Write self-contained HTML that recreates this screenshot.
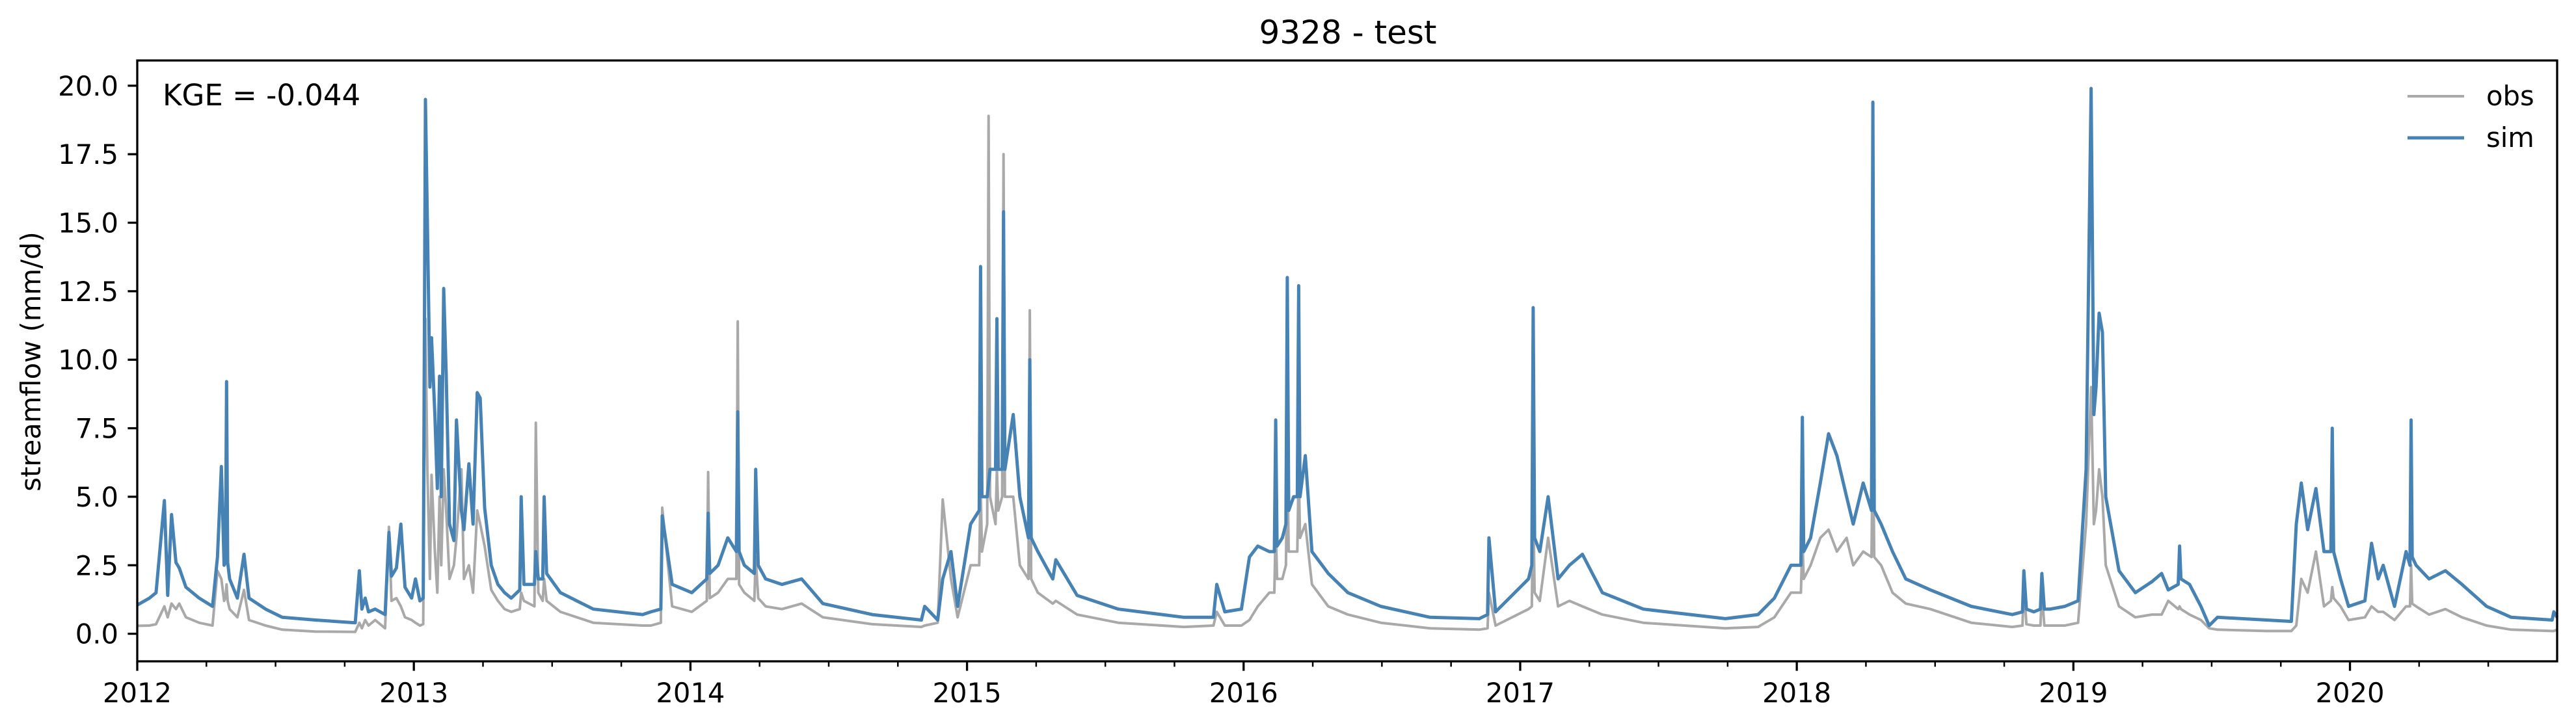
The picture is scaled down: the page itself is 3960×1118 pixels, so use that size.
<!DOCTYPE html>
<html><head><meta charset="utf-8"><title>9328 - test</title>
<style>html,body{margin:0;padding:0;background:#fff;}svg{display:block;font-family:"DejaVu Sans","Liberation Sans",sans-serif;}</style>
</head><body>
<svg id="chart" width="3960" height="1118" viewBox="0 0 3960 1118" xmlns="http://www.w3.org/2000/svg">
<rect x="0" y="0" width="3960" height="1118" fill="#fff"/>
<text x="2072" y="67" font-size="50" text-anchor="middle">9328 - test</text>
<g id="series"></g>
<g id="axes"></g>
<text x="250" y="162" font-size="45">KGE = -0.044</text>
<text x="0" y="0" font-size="41.7" text-anchor="middle" transform="translate(62,556) rotate(-90)">streamflow (mm/d)</text>
<g>
<line x1="3701" y1="148" x2="3788" y2="148" stroke="#a9a9a9" stroke-width="4"/>
<text x="3822" y="162" font-size="41.7">obs</text>
<line x1="3701" y1="212" x2="3788" y2="212" stroke="#4682b4" stroke-width="5"/>
<text x="3822" y="226" font-size="41.7">sim</text>
</g>
</svg>
<script>
const times = [0.000,0.044,0.068,0.098,0.110,0.124,0.140,0.152,0.176,0.224,0.272,0.290,0.304,0.314,0.319,0.323,0.327,0.334,0.362,0.386,0.404,0.464,0.524,0.644,0.788,0.803,0.812,0.824,0.836,0.860,0.896,0.910,0.919,0.937,0.953,0.968,0.992,1.006,1.022,1.034,1.042,1.049,1.058,1.064,1.076,1.085,1.093,1.099,1.108,1.117,1.129,1.145,1.154,1.172,1.181,1.199,1.214,1.229,1.240,1.256,1.280,1.304,1.328,1.352,1.383,1.388,1.398,1.436,1.441,1.450,1.466,1.471,1.480,1.530,1.649,1.827,1.857,1.893,1.898,1.934,2.005,2.059,2.064,2.070,2.100,2.135,2.166,2.171,2.176,2.195,2.231,2.236,2.245,2.272,2.331,2.402,2.479,2.657,2.835,2.847,2.894,2.912,2.942,2.966,3.013,3.044,3.049,3.054,3.073,3.078,3.083,3.103,3.108,3.113,3.127,3.132,3.137,3.167,3.191,3.222,3.227,3.232,3.256,3.310,3.321,3.398,3.547,3.784,3.891,3.903,3.932,3.992,4.021,4.051,4.093,4.111,4.116,4.121,4.140,4.153,4.158,4.163,4.181,4.194,4.199,4.204,4.223,4.247,4.306,4.377,4.496,4.674,4.852,4.882,4.887,4.911,5.030,5.042,5.047,5.052,5.071,5.101,5.137,5.178,5.225,5.297,5.445,5.742,5.860,5.919,5.979,6.015,6.020,6.025,6.050,6.085,6.115,6.145,6.180,6.204,6.240,6.270,6.275,6.280,6.305,6.346,6.394,6.483,6.631,6.779,6.816,6.821,6.830,6.857,6.881,6.886,6.895,6.916,6.969,7.017,7.046,7.064,7.074,7.082,7.093,7.105,7.117,7.165,7.224,7.284,7.319,7.343,7.379,7.384,7.389,7.420,7.461,7.491,7.521,7.699,7.788,7.806,7.824,7.847,7.877,7.906,7.931,7.936,7.941,7.966,7.995,8.054,8.078,8.102,8.120,8.161,8.203,8.217,8.221,8.225,8.239,8.286,8.345,8.405,8.494,8.583,8.731,8.737,8.749];
const simValues = [1.05,1.3,1.5,4.86,1.4,4.35,2.6,2.4,1.7,1.3,1.0,2.8,6.1,2.5,2.6,9.2,2.6,2.0,1.3,2.9,1.3,0.9,0.6,0.5,0.4,2.3,0.9,1.3,0.8,0.9,0.7,3.7,2.1,2.4,4.0,1.7,1.3,2.0,1.2,1.3,19.5,15.0,9.0,10.8,8.0,5.3,9.4,5.0,12.6,9.5,4.0,3.4,7.8,4.5,3.8,6.2,4.0,8.8,8.6,4.6,2.5,1.8,1.5,1.3,1.6,5.0,1.8,1.8,3.0,2.0,2.0,5.0,2.2,1.5,0.9,0.7,0.8,0.9,4.3,1.8,1.5,2.0,4.4,2.2,2.5,3.5,3.0,8.1,3.0,2.5,2.2,6.0,2.5,2.0,1.8,2.0,1.1,0.7,0.5,1.0,0.5,2.0,3.0,1.0,4.0,4.5,13.4,5.0,5.0,5.5,6.0,6.0,11.5,6.0,6.0,15.4,6.0,8.0,5.0,3.5,10.0,3.5,3.0,2.0,2.7,1.4,0.9,0.6,0.6,1.8,0.8,0.9,2.8,3.2,3.0,3.0,7.8,3.2,3.5,4.0,13.0,4.5,5.0,5.0,12.7,5.0,6.5,3.0,2.2,1.5,1.0,0.6,0.55,0.7,3.5,0.8,2.0,2.5,11.9,3.5,3.0,5.0,2.0,2.5,2.9,1.5,0.9,0.55,0.7,1.3,2.5,2.5,7.9,3.0,3.5,5.5,7.3,6.5,5.0,4.0,5.5,4.5,19.4,4.5,4.0,3.0,2.0,1.6,1.0,0.7,0.8,2.3,0.9,0.8,0.9,2.2,0.9,0.9,1.0,1.2,6.0,19.9,8.0,9.0,11.7,11.0,5.0,2.3,1.5,1.9,2.2,1.6,1.8,3.2,2.0,1.8,1.0,0.3,0.6,0.5,0.45,4.0,5.5,3.8,5.3,3.0,3.0,7.5,3.0,2.0,1.0,1.2,3.3,2.0,2.5,1.0,3.0,2.5,7.8,2.8,2.5,2.0,2.3,1.8,1.0,0.6,0.5,0.8,0.6];
const obsValues = [0.29,0.3,0.35,1.0,0.6,1.1,0.9,1.1,0.6,0.4,0.3,2.3,2.0,1.2,1.3,1.8,1.2,0.9,0.6,1.6,0.5,0.3,0.15,0.08,0.07,0.4,0.2,0.5,0.3,0.5,0.2,3.9,1.2,1.3,1.0,0.6,0.5,0.4,0.3,0.35,11.5,6.0,2.0,5.8,3.0,1.5,5.0,2.5,6.0,4.5,2.0,2.5,3.5,6.0,2.0,2.5,1.5,4.5,4.0,3.2,1.6,1.2,0.9,0.8,0.9,1.5,1.2,1.0,7.7,1.5,1.2,2.0,1.2,0.8,0.4,0.3,0.3,0.4,4.6,1.0,0.8,1.2,5.9,1.3,1.5,2.0,2.0,11.4,1.8,1.5,1.2,2.8,1.3,1.0,0.9,1.1,0.6,0.35,0.25,0.3,0.4,4.9,2.0,0.6,2.5,2.5,5.5,3.0,4.0,18.9,5.0,4.0,6.0,4.5,5.0,17.5,5.0,5.0,2.5,2.0,11.8,2.0,1.5,1.1,1.2,0.7,0.4,0.25,0.3,0.8,0.3,0.3,0.5,1.0,1.5,1.5,4.0,2.0,2.0,2.5,6.5,3.0,3.0,3.0,6.0,3.5,4.0,1.8,1.0,0.7,0.4,0.2,0.15,0.2,1.5,0.3,0.9,1.0,5.0,1.5,1.2,3.5,1.0,1.2,1.0,0.7,0.4,0.2,0.25,0.6,1.5,1.5,3.5,2.0,2.5,3.5,3.8,3.0,3.5,2.5,3.0,2.8,7.6,2.8,2.5,1.5,1.1,0.9,0.4,0.25,0.3,1.8,0.35,0.3,0.3,1.5,0.3,0.3,0.3,0.4,4.0,9.0,4.0,4.5,6.0,5.0,2.5,1.0,0.6,0.7,0.7,1.2,0.9,1.0,0.9,0.7,0.5,0.2,0.15,0.1,0.1,0.3,2.0,1.5,3.0,1.0,1.2,1.7,1.3,1.0,0.5,0.6,1.0,0.8,0.8,0.5,1.0,1.0,2.5,1.1,1.0,0.7,0.9,0.6,0.3,0.15,0.1,0.1,0.15];
const yTickValues = [0,2.5,5,7.5,10,12.5,15,17.5,20];
const yTickLabels = ["0.0","2.5","5.0","7.5","10.0","12.5","15.0","17.5","20.0"];
const xTickYears = [0,1,2,3,4,5,6,7,8];
const xTickLabels = ["2012","2013","2014","2015","2016","2017","2018","2019","2020"];

const NS = "http://www.w3.org/2000/svg";
const L = 211, R = 3931, T = 93, B = 1017;
const xMin = 0, xMax = 8.749;
function xs(t){ return L + (t - xMin) / (xMax - xMin) * (R - L); }
function ys(v){ return 974.6 - v * 42.14; }
function mk(tag, attrs, parent){ const e = document.createElementNS(NS, tag); for (const k in attrs) e.setAttribute(k, attrs[k]); parent.appendChild(e); return e; }

const series = document.getElementById('series');
const axes = document.getElementById('axes');
function drawLine(vals, color, w, name){
  let d = '';
  for (let i = 0; i < times.length; i++) d += (i ? 'L' : 'M') + xs(times[i]).toFixed(1) + ',' + ys(vals[i]).toFixed(1);
  const p = mk('path', {d: d, fill: 'none', stroke: color, 'stroke-width': w, 'stroke-linejoin': 'round'}, series);
  
  
}
drawLine(obsValues, '#a9a9a9', 4, 'obs-line');
drawLine(simValues, '#4682b4', 5, 'sim-line');

const frame = mk('rect', {x: L, y: T, width: R - L, height: B - T, fill: 'none', stroke: '#000', 'stroke-width': 3.3}, axes);



for (let i = 0; i < yTickValues.length; i++){
  const y = ys(yTickValues[i]);
  const tk = mk('line', {x1: L - 14.6, x2: L, y1: y, y2: y, stroke: '#000', 'stroke-width': 3.3}, axes);
  
  
  const tx = mk('text', {x: 182, y: y + 15, 'font-size': 41.7, 'text-anchor': 'end'}, axes);
  tx.textContent = yTickLabels[i];
  
  
}
for (let i = 0; i < xTickYears.length; i++){
  const x = xs(xTickYears[i]);
  const tk = mk('line', {x1: x, x2: x, y1: B, y2: B + 14.6, stroke: '#000', 'stroke-width': 3.3}, axes);
  
  
  const tx = mk('text', {x: x, y: 1080, 'font-size': 41.7, 'text-anchor': 'middle'}, axes);
  tx.textContent = xTickLabels[i];
  
  
  for (let q = 1; q < 4; q++){
    const t = xTickYears[i] + q * 0.25;
    if (t > xMax) break;
    const m = mk('line', {x1: xs(t), x2: xs(t), y1: B, y2: B + 8.3, stroke: '#000', 'stroke-width': 2.5}, axes);
    
    
  }
}
</script>
</body></html>
